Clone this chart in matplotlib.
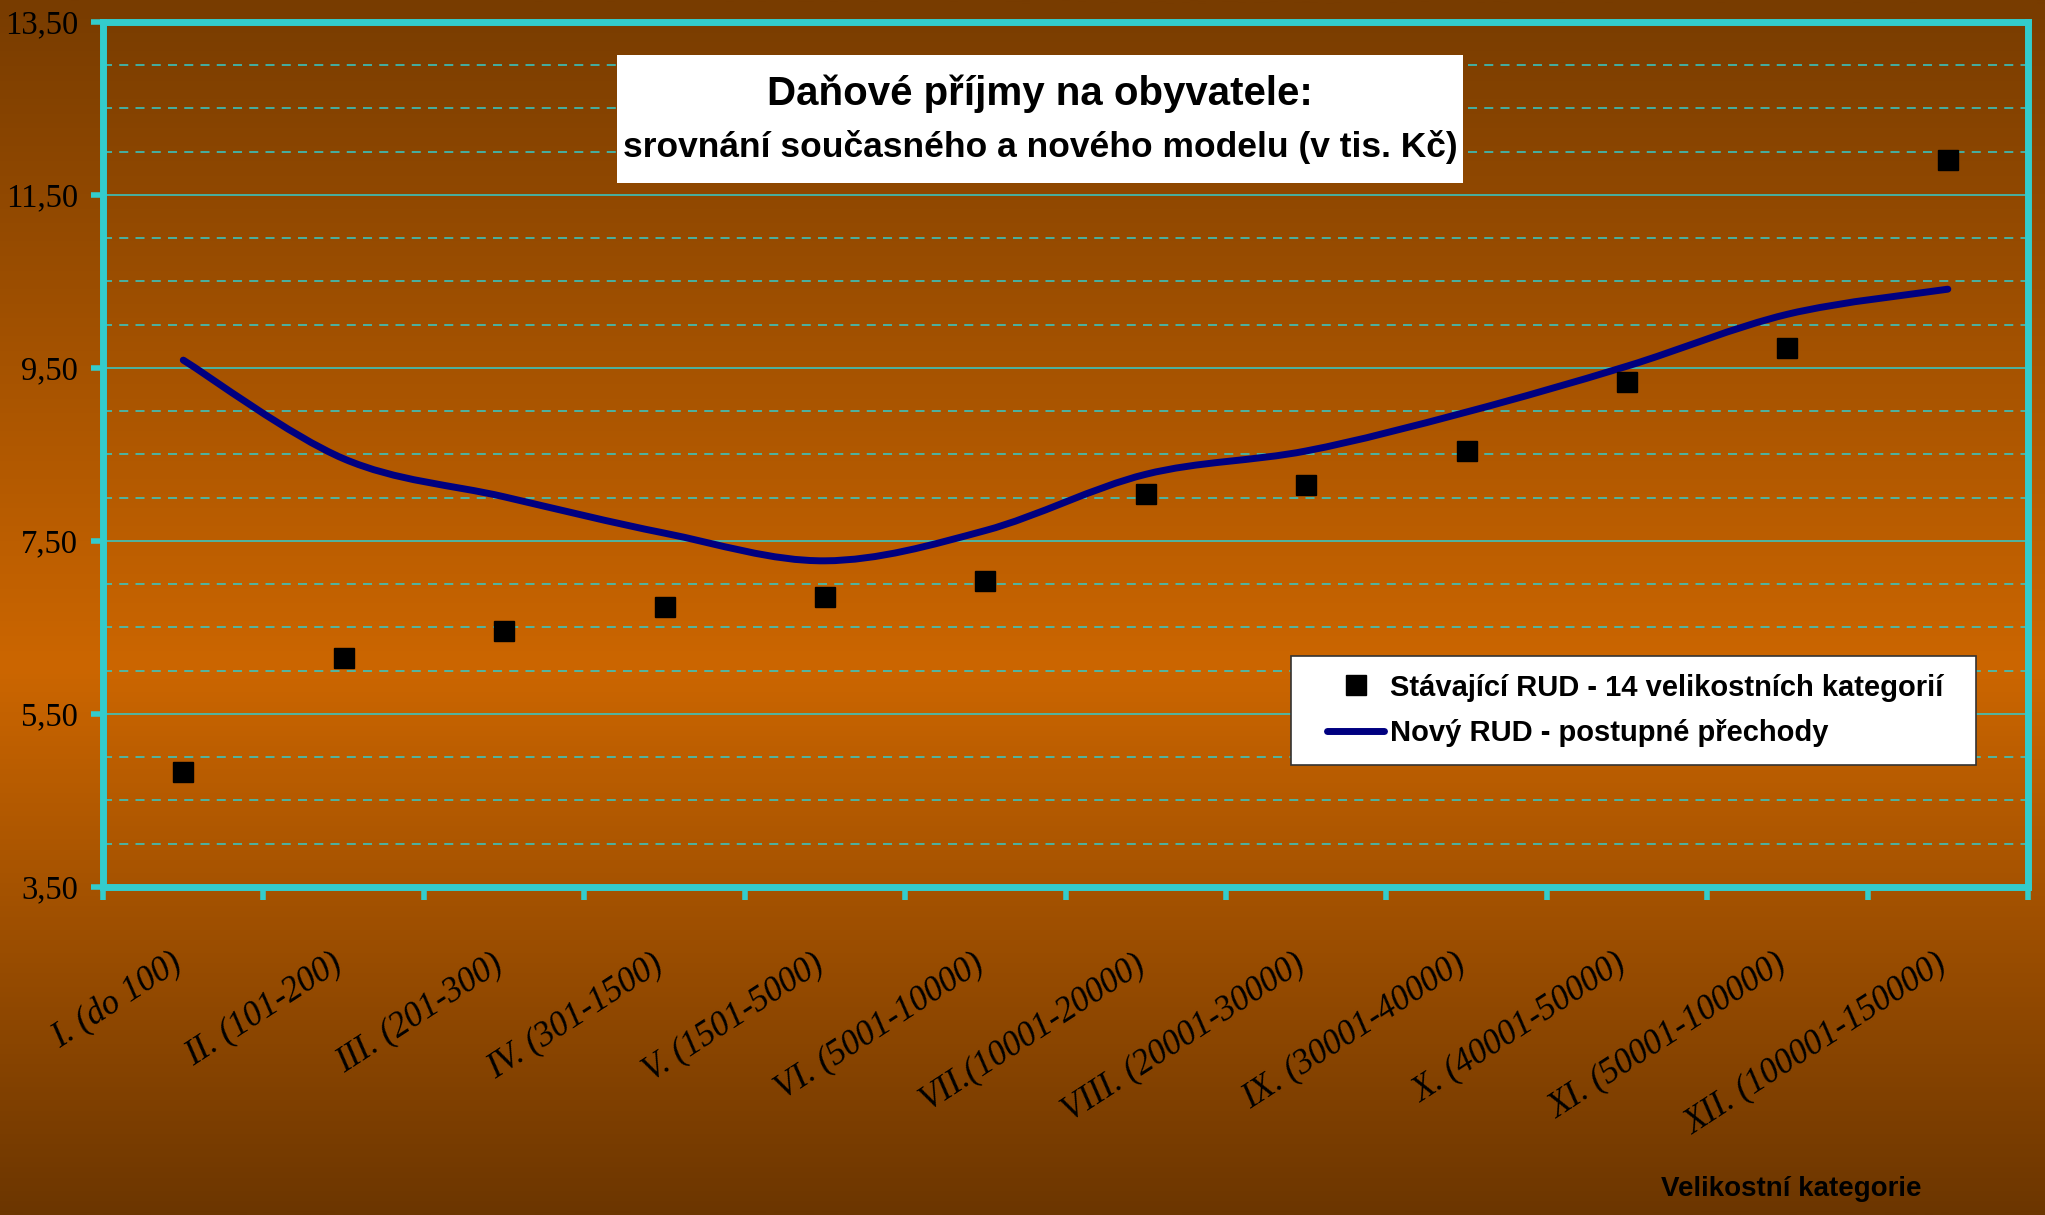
import numpy as np
import matplotlib
matplotlib.use("Agg")
import matplotlib.pyplot as plt
from matplotlib.path import Path
from matplotlib.patches import PathPatch, Rectangle
from matplotlib.lines import Line2D
from matplotlib.legend_handler import HandlerLine2D
from matplotlib.colors import LinearSegmentedColormap
from matplotlib.ticker import FuncFormatter

categories = [
    "I. (do 100)", "II. (101-200)", "III. (201-300)", "IV. (301-1500)",
    "V. (1501-5000)", "VI. (5001-10000)", "VII.(10001-20000)",
    "VIII. (20001-30000)", "IX. (30001-40000)", "X. (40001-50000)",
    "XI. (50001-100000)", "XII. (100001-150000)",
]
stavajici = [4.83, 6.15, 6.46, 6.74, 6.85, 7.04, 8.04, 8.15, 8.54, 9.34, 9.73, 11.90]
novy = [9.59, 8.45, 8.01, 7.59, 7.27, 7.62, 8.27, 8.54, 8.99, 9.52, 10.12, 10.41]
y_major = [3.5, 5.5, 7.5, 9.5, 11.5, 13.5]
y_minor_step = 0.5

title1 = "Daňové příjmy na obyvatele:"
title2 = "srovnání současného a nového modelu (v tis. Kč)"
label_old = "Stávající RUD - 14 velikostních kategorií"
label_new = "Nový RUD - postupné přechody"
xlabel = "Velikostní kategorie"

CYAN = "#33CCCC"
NAVY = "#000080"
SANS = ["Liberation Sans", "DejaVu Sans"]
SERIF = ["Liberation Serif", "DejaVu Serif"]


def smooth_path(xs, ys):
    # Excel-like smoothed line: Catmull-Rom segments as cubic Bezier curves
    pts = np.column_stack([xs, ys])
    n = len(pts)
    verts = [pts[0]]
    codes = [Path.MOVETO]
    for i in range(n - 1):
        p0 = pts[max(i - 1, 0)]
        p1 = pts[i]
        p2 = pts[i + 1]
        p3 = pts[min(i + 2, n - 1)]
        c1 = p1 + (p2 - p0) / 6.0
        c2 = p2 - (p3 - p1) / 6.0
        verts += [c1, c2, p2]
        codes += [Path.CURVE4] * 3
    return Path(verts, codes)


def main():
    fig = plt.figure(figsize=(20.45, 12.15), dpi=100)

    # background gradient
    bg = fig.add_axes([0, 0, 1, 1], zorder=-10)
    cmap = LinearSegmentedColormap.from_list(
        "bg", [(0.0, "#783c00"), (0.55, "#cc6600"), (1.0, "#6c3600")])
    grad = np.linspace(0, 1, 512).reshape(-1, 1)
    bg.imshow(grad, aspect="auto", cmap=cmap, extent=[0, 1, 1, 0])
    bg.set_xlim(0, 1)
    bg.set_ylim(1, 0)
    bg.axis("off")

    ax = fig.add_axes([0.0504, 0.270, 0.9413, 0.712])
    ax.set_facecolor("none")

    x = np.arange(len(categories)) + 0.5
    ax.set_xlim(0, len(categories))
    ax.set_ylim(y_major[0], y_major[-1])

    # grid
    ax.set_yticks(y_major)
    ax.set_yticks(np.arange(y_major[0], y_major[-1] + 0.01, y_minor_step), minor=True)
    ax.yaxis.set_major_formatter(FuncFormatter(lambda v, p: f"{v:.2f}".replace(".", ",")))
    ax.grid(which="major", axis="y", color=CYAN, lw=1.3, alpha=0.85)
    ax.grid(which="minor", axis="y", color=CYAN, lw=1.3, ls=(0, (5, 4)), alpha=0.85)
    ax.set_axisbelow(True)

    # category ticks at boundaries, labels centred below each category
    ax.set_xticks(np.arange(len(categories) + 1))
    ax.set_xticklabels([])
    for xi, cat in zip(x, categories):
        ax.annotate(cat, xy=(xi, 0), xycoords=ax.get_xaxis_transform(),
                    xytext=(-13, -60), textcoords="offset pixels",
                    rotation=33, ha="right", va="top", rotation_mode="anchor",
                    family=SERIF, style="italic", fontsize=25, annotation_clip=False)
    ax.tick_params(axis="x", which="major", length=9, width=4, color=CYAN, direction="out")
    ax.tick_params(axis="y", which="major", length=9, width=4, color=CYAN, direction="out",
                   labelsize=23.5, pad=9)
    ax.tick_params(axis="y", which="minor", length=0)
    for lbl in ax.get_yticklabels():
        lbl.set_family(SERIF)

    for s in ax.spines.values():
        s.set_color(CYAN)
        s.set_linewidth(5)

    # smoothed line
    patch = PathPatch(smooth_path(x, novy), facecolor="none", edgecolor=NAVY,
                      lw=5, capstyle="round", joinstyle="round", zorder=3)
    ax.add_patch(patch)

    ax.plot(x, stavajici, ls="none", marker="s", ms=15, color="black", zorder=4)

    handles = [
        Line2D([], [], ls="none", marker="s", ms=15, color="black"),
        Line2D([], [], color=NAVY, lw=5, solid_capstyle="round"),
    ]
    x0, y0 = 1291 / 2045, 1 - 768 / 1215
    leg = ax.legend(handles, [label_old, label_new], loc="upper left",
                    bbox_to_anchor=(x0, y0, 685 / 2045, 112 / 1215),
                    bbox_transform=fig.transFigure, mode="expand",
                    prop={"family": SANS, "weight": "bold", "size": 21},
                    fancybox=False, framealpha=1, edgecolor="#333333",
                    handlelength=2.6, handletextpad=0.2, borderpad=0.6,
                    labelspacing=0.6, borderaxespad=0,
                    handler_map={Line2D: HandlerLine2D(xpad=0.65)})
    leg.get_frame().set_linewidth(1.2)

    # title box
    fig.patches.append(Rectangle((617 / 2045, 1 - 183 / 1215), 846 / 2045, 128 / 1215,
                                 transform=fig.transFigure, facecolor="white",
                                 edgecolor="none", zorder=5))
    fig.text(1040 / 2045, 1 - 94 / 1215, title1, ha="center", va="center",
             family=SANS, weight="bold", fontsize=29, zorder=6)
    fig.text(1040 / 2045, 1 - 147 / 1215, title2, ha="center", va="center",
             family=SANS, weight="bold", fontsize=25.5, zorder=6)

    fig.text(1791 / 2045, 1 - 1189 / 1215, xlabel, ha="center", va="center",
             family=SANS, weight="bold", fontsize=20)

    fig.savefig("out.png", dpi=100)


if __name__ == "__main__":
    main()
